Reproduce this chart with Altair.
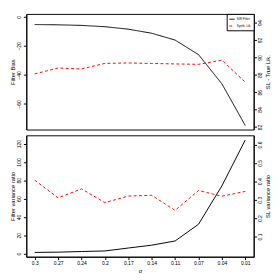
import altair as alt
import pandas as pd

sigma = ["0.3", "0.27", "0.24", "0.2", "0.17", "0.14", "0.11", "0.07", "0.04", "0.01"]
filter_bias = [-5.3, -5.5, -5.9, -6.8, -8.5, -11.3, -16.0, -26.0, -46.1, -74.8]
sl_true_lik = [88.1, 88.78, 88.67, 89.31, 89.36, 89.3, 89.25, 89.2, 89.68, 87.15]
filter_var_ratio = [1.3, 1.6, 2.3, 2.9, 6.1, 9.2, 13.8, 32.0, 73.9, 124.0]
sl_var_ratio = [0.406, 0.31, 0.359, 0.284, 0.32, 0.324, 0.242, 0.35, 0.319, 0.345]

series_names = ["SIR Filter", "Synth. Lik."]
series_colors = ["black", "red"]
series_dashes = [[1, 0], [3, 2.5]]

bias_ticks = [0, -20, -40, -60]
lik_ticks = [82, 84, 86, 88, 90, 92, 94]
fvar_ticks = [0, 20, 40, 60, 80, 100, 120]
slvar_ticks = [0.1, 0.2, 0.3, 0.4, 0.5, 0.6]

FONT = "Liberation Sans"
W, H1, H2 = 236, 120, 126

df = pd.DataFrame({
    "sigma": sigma,
    "filter_bias": filter_bias,
    "sl_true_lik": sl_true_lik,
    "filter_var_ratio": filter_var_ratio,
    "sl_var_ratio": sl_var_ratio,
})

pad = "\u00a0" * 16
leg = alt.Legend(
    title=None, orient="top-right", offset=0, symbolType="stroke", symbolSize=30,
    symbolStrokeWidth=1, labelFontSize=3.2, labelFont=FONT, labelColor="black",
    padding=2, rowPadding=1, labelOffset=1.5, strokeColor="black", fillColor="white",
    labelExpr=f"datum.label + '{pad}'",
)
color = alt.Color("series:N", scale=alt.Scale(domain=series_names, range=series_colors), legend=leg)
dash = alt.StrokeDash("series:N", scale=alt.Scale(domain=series_names, range=series_dashes), legend=leg)

x_top = alt.X("sigma:O", sort=None, scale=alt.Scale(type="point", padding=0.36), axis=None)
x_bot = alt.X("sigma:O", sort=None, scale=alt.Scale(type="point", padding=0.36),
              axis=alt.Axis(title="σ", labelAngle=0))

base = alt.Chart(df)

top_bias = base.transform_calculate(series="'SIR Filter'").mark_line(strokeWidth=1).encode(
    x=x_top,
    y=alt.Y("filter_bias:Q", scale=alt.Scale(domain=[-77.6, 2.0], nice=False, zero=False),
            axis=alt.Axis(title="Filter Bias", values=bias_ticks, orient="left", labelAngle=270)),
    color=color, strokeDash=dash,
)
top_lik = base.transform_calculate(series="'Synth. Lik.'").mark_line(strokeWidth=1).encode(
    x=x_top,
    y=alt.Y("sl_true_lik:Q", scale=alt.Scale(domain=[81.7, 95.0], nice=False, zero=False),
            axis=alt.Axis(title="SL - True Lik.", values=lik_ticks, orient="right", labelAngle=270,
                          titleAngle=270, titleBaseline="top")),
    color=color, strokeDash=dash,
)
top = alt.layer(top_bias, top_lik).resolve_scale(y="independent").properties(width=W, height=H1)

bot_f = base.mark_line(strokeWidth=1, color="black").encode(
    x=x_bot,
    y=alt.Y("filter_var_ratio:Q", scale=alt.Scale(domain=[-3.4, 129.1], nice=False, zero=False),
            axis=alt.Axis(title="Filter variance ratio", values=fvar_ticks, orient="left", labelAngle=270)),
)
bot_s = base.mark_line(strokeWidth=1, color="red", strokeDash=[3, 2.5]).encode(
    x=x_bot,
    y=alt.Y("sl_var_ratio:Q", scale=alt.Scale(domain=[-0.01, 0.65], nice=False, zero=False),
            axis=alt.Axis(title="SL variance ratio", values=slvar_ticks, orient="right", labelAngle=270,
                          titleAngle=270, titleBaseline="top", format=".1f")),
)
bottom = alt.layer(bot_f, bot_s).resolve_scale(y="independent").properties(width=W, height=H2)

chart = alt.vconcat(top, bottom, spacing=4).resolve_scale(
    color="independent", strokeDash="independent"
).resolve_legend(color="independent", strokeDash="independent").properties(
    padding=0, background="white"
).configure_view(stroke="black", strokeWidth=1).configure_axis(
    domainColor="black", tickColor="black", labelColor="black", titleColor="black",
    grid=False, labelFont=FONT, titleFont=FONT, labelFontSize=5.2, titleFontSize=6,
    titleFontWeight="normal", tickSize=3, labelPadding=1.5, titlePadding=2,
    domainWidth=1, tickWidth=1,
)

chart.save("out.html", embed_options={"renderer": "svg", "actions": False})
